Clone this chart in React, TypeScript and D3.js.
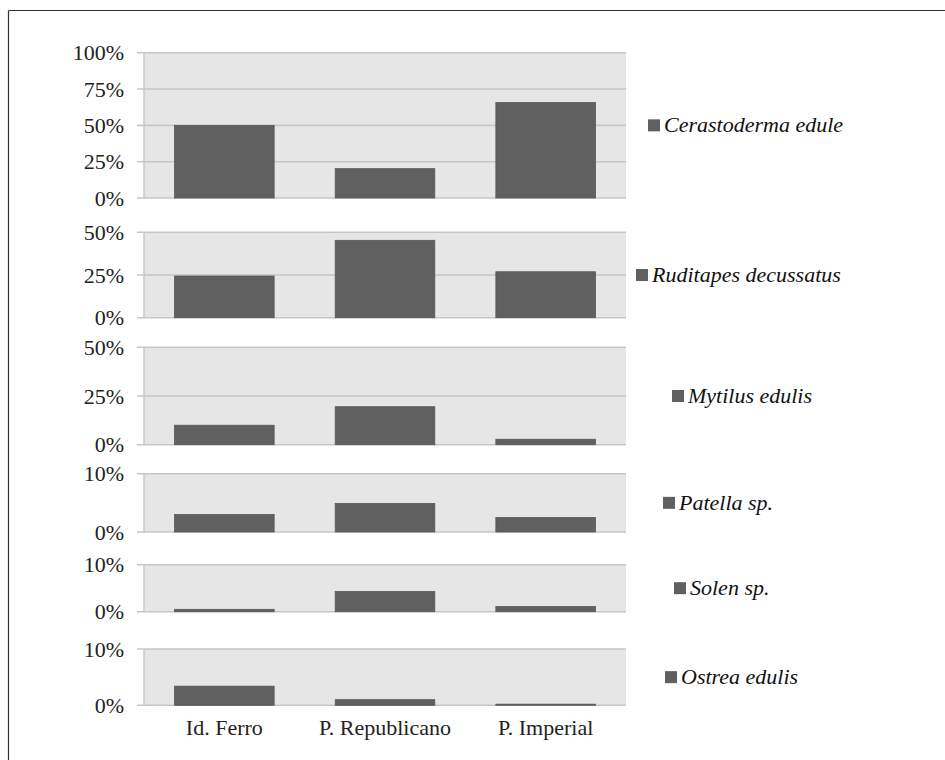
import React from "react";
import * as d3 from "d3";

const categories = ["Id. Ferro", "P. Republicano", "P. Imperial"];
const species = [
  "Cerastoderma edule",
  "Ruditapes decussatus",
  "Mytilus edulis",
  "Patella sp.",
  "Solen sp.",
  "Ostrea edulis",
];
const cerastoderma = [50, 20.2, 65.7];
const ruditapes = [24.4, 45.3, 26.9];
const mytilus = [10, 19.5, 2.8];
const patella = [3.0, 4.9, 2.5];
const solen = [0.5, 4.3, 1.1];
const ostrea = [3.4, 1.0, 0.2];
const seriesValues = [cerastoderma, ruditapes, mytilus, patella, solen, ostrea];
const axisMax = [100, 50, 50, 10, 10, 10];
const tickValues = [
  [0, 25, 50, 75, 100],
  [0, 25, 50],
  [0, 25, 50],
  [0, 10],
  [0, 10],
  [0, 10],
];

// layout (not data)
const panelTop = [52.7, 232.3, 347.3, 473.7, 564.7, 649];
const panelBottom = [198, 317.7, 444.7, 532, 611.7, 705.3];
const legendX = [648, 636, 672, 663, 674, 665];

const W = 945;
const H = 760;
const plotLeft = 144;
const plotRight = 626;
const FONT = "Liberation Serif, Times New Roman, Times, DejaVu Serif, serif";

export default function App() {
  const x = d3
    .scaleBand<string>()
    .domain(categories)
    .range([plotLeft, plotRight])
    .paddingInner(0.38)
    .paddingOuter(0.19);

  const txt = { fontFamily: FONT, fontSize: 22 } as React.CSSProperties;

  return (
    <svg
      width={W}
      height={H}
      style={{ position: "absolute", left: 0, top: 0, background: "#fff" }}
    >
      <line x1={8.5} y1={10.5} x2={W} y2={10.5} stroke="#333" strokeWidth={1.2} />
      <line x1={8.5} y1={10.5} x2={8.5} y2={H} stroke="#333" strokeWidth={1.2} />
      {species.map((sp, i) => {
        const y = d3
          .scaleLinear()
          .domain([0, axisMax[i]])
          .range([panelBottom[i], panelTop[i]]);
        const vals = seriesValues[i];
        const mid = (panelTop[i] + panelBottom[i]) / 2;
        return (
          <g key={sp}>
            <rect
              x={plotLeft}
              y={y(axisMax[i])}
              width={plotRight - plotLeft}
              height={y(0) - y(axisMax[i])}
              fill="#e6e6e6"
            />
            {tickValues[i].map((t) => (
              <g key={t}>
                <line
                  x1={137}
                  x2={plotRight}
                  y1={y(t)}
                  y2={y(t)}
                  stroke="#c6c6c6"
                  strokeWidth={1.6}
                />
                <text
                  x={124}
                  y={y(t)}
                  dy="0.35em"
                  textAnchor="end"
                  style={txt}
                  fill="#222"
                >
                  {t}%
                </text>
              </g>
            ))}
            <line
              x1={plotLeft}
              x2={plotLeft}
              y1={y(axisMax[i])}
              y2={y(0)}
              stroke="#c6c6c6"
              strokeWidth={1.4}
            />
            {vals.map((v, j) => (
              <rect
                key={j}
                x={x(categories[j])}
                y={y(v)}
                width={x.bandwidth()}
                height={y(0) - y(v)}
                fill="#606060"
                stroke="#575757"
                strokeWidth={0.8}
              />
            ))}
            <rect
              x={legendX[i]}
              y={mid - 6}
              width={12}
              height={12}
              fill="#606060"
            />
            <text
              x={legendX[i] + 16}
              y={mid + 7}
              style={{ ...txt, fontStyle: "italic" }}
              fill="#111"
            >
              {sp}
            </text>
          </g>
        );
      })}
      {categories.map((c) => (
        <text
          key={c}
          x={(x(c) ?? 0) + x.bandwidth() / 2}
          y={735}
          textAnchor="middle"
          style={txt}
          fill="#222"
        >
          {c}
        </text>
      ))}
    </svg>
  );
}
